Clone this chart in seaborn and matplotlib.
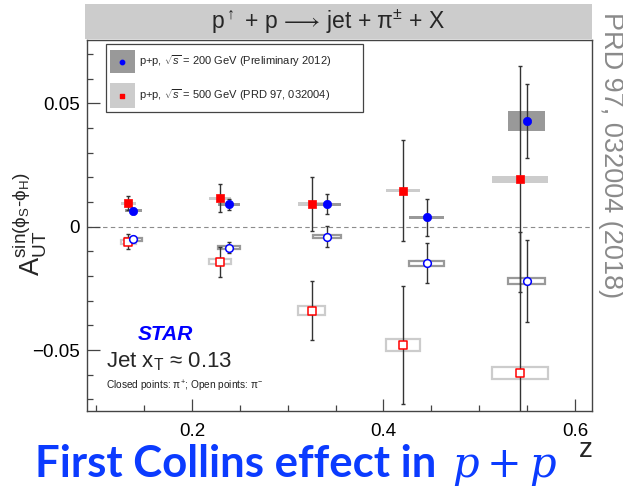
import numpy as np
import pandas as pd
import matplotlib
matplotlib.use("Agg")
import matplotlib.pyplot as plt
from matplotlib.patches import Rectangle
from matplotlib.ticker import MultipleLocator, FixedLocator, FuncFormatter
import seaborn as sns

# ---- data: Collins asymmetry vs z ----
# 200 GeV (preliminary 2012)
z_200 = [0.1387, 0.239, 0.341, 0.445, 0.5495]
a_200_pip = [0.0065, 0.0091, 0.0092, 0.0038, 0.0428]
e_200_pip = [0.0012, 0.0022, 0.0040, 0.0074, 0.0149]
a_200_pim = [-0.0051, -0.0085, -0.0041, -0.0148, -0.0219]
e_200_pim = [0.0012, 0.0022, 0.0043, 0.0081, 0.0166]
# systematic boxes (half-width in z, half-height in A)
sx_200 = [0.0087, 0.0115, 0.0145, 0.0180, 0.0193]
sy_200_pip = [0.0006, 0.0006, 0.0006, 0.0006, 0.0040]
sy_200_pim = [0.0006, 0.0006, 0.0006, 0.0010, 0.0013]

# 500 GeV (PRD 97, 032004)
z_500 = [0.1335, 0.229, 0.325, 0.4207, 0.5426]
a_500_pip = [0.0095, 0.0115, 0.0092, 0.0146, 0.0193]
e_500_pip = [0.0028, 0.0057, 0.0108, 0.0204, 0.0458]
a_500_pim = [-0.0061, -0.0142, -0.0340, -0.0480, -0.0592]
e_500_pim = [0.0030, 0.0060, 0.0120, 0.0240, 0.0570]
sx_500 = [0.0080, 0.0113, 0.0140, 0.0178, 0.0290]
sy_500_pip = [0.0006, 0.0006, 0.0007, 0.0007, 0.0014]
sy_500_pim = [0.0008, 0.0011, 0.0019, 0.0024, 0.0024]

x_ticks = [0.2, 0.4, 0.6]
y_ticks = [-0.05, 0.0, 0.05]

sns.set_theme(style="ticks")
plt.rcParams["font.family"] = ["Liberation Sans", "DejaVu Sans"]
plt.rcParams["mathtext.fontset"] = "custom"
plt.rcParams["mathtext.rm"] = "Liberation Sans"
plt.rcParams["mathtext.it"] = "Liberation Sans:italic"
plt.rcParams["mathtext.bf"] = "Liberation Sans:bold"

BLUE = "#0000ff"
RED = "#ff0000"
DARK = "#999999"
LIGHT = "#cccccc"

fig = plt.figure(figsize=(6.23, 4.88), dpi=100)
ax = fig.add_axes([0.1396, 0.1578, 0.8106, 0.7602])

ax.axhline(0, color="#8c8c8c", lw=0.8, ls=(0, (4, 3)), zorder=0.5)


def draw_set(z, a, err, sx, sy, color, box_color, filled, marker, size):
    df = pd.DataFrame({"z": z, "A": a})
    for zi, ai, hw, hh in zip(z, a, sx, sy):
        if filled:
            ax.add_patch(Rectangle((zi - hw, ai - hh), 2 * hw, 2 * hh,
                                   facecolor=box_color, edgecolor="none", zorder=1))
        else:
            ax.add_patch(Rectangle((zi - hw, ai - hh), 2 * hw, 2 * hh,
                                   facecolor="none", edgecolor=box_color, lw=1.6, zorder=1))
    ax.errorbar(z, a, yerr=err, fmt="none", ecolor="#333333", elinewidth=1.0,
                capsize=1.5, capthick=1.0, zorder=2)
    if filled:
        sns.scatterplot(data=df, x="z", y="A", ax=ax, marker=marker, s=size,
                        color=color, edgecolor=color, linewidth=0.5, zorder=3, legend=False)
    else:
        sns.scatterplot(data=df, x="z", y="A", ax=ax, marker=marker, s=size * 0.85,
                        color="white", edgecolor=color, linewidth=1.1, zorder=3, legend=False)


draw_set(z_500, a_500_pim, e_500_pim, sx_500, sy_500_pim, RED, LIGHT, False, "s", 30)
draw_set(z_200, a_200_pim, e_200_pim, sx_200, sy_200_pim, BLUE, DARK, False, "o", 36)
draw_set(z_500, a_500_pip, e_500_pip, sx_500, sy_500_pip, RED, LIGHT, True, "s", 30)
draw_set(z_200, a_200_pip, e_200_pip, sx_200, sy_200_pip, BLUE, DARK, True, "o", 36)

ax.set_xlim(0.0903, 0.6178)
ax.set_ylim(-0.0747, 0.0757)
ax.xaxis.set_major_locator(FixedLocator(x_ticks))
ax.xaxis.set_minor_locator(MultipleLocator(0.05))
ax.yaxis.set_major_locator(FixedLocator(y_ticks))
ax.yaxis.set_minor_locator(MultipleLocator(0.01))
ax.xaxis.set_major_formatter(FuncFormatter(lambda v, p: f"{v:g}"))
ax.yaxis.set_major_formatter(FuncFormatter(lambda v, p: "0" if abs(v) < 1e-9 else f"{v:g}".replace("-", "\u2212")))
ax.tick_params(axis="both", which="major", direction="in", length=9, width=0.9,
               color="#444444", labelsize=13.5, labelcolor="black")
ax.tick_params(axis="both", which="minor", direction="in", length=4.5, width=0.9, color="#444444")
ax.tick_params(axis="x", which="major", pad=9)
ax.tick_params(axis="y", which="major", pad=5)
for sp in ax.spines.values():
    sp.set_color("#444444")
    sp.set_linewidth(1.0)
ax.set_xlabel("")
ax.set_ylabel("")

# legend box
ax.add_patch(Rectangle((0.0376, 0.806), 0.509, 0.183, transform=ax.transAxes,
                       facecolor="white", edgecolor="#444444", lw=0.9, zorder=5))
ax.add_patch(Rectangle((0.0455, 0.911), 0.0495, 0.062, transform=ax.transAxes,
                       facecolor=DARK, edgecolor="none", zorder=6))
ax.add_patch(Rectangle((0.0455, 0.817), 0.0495, 0.067, transform=ax.transAxes,
                       facecolor=LIGHT, edgecolor="none", zorder=6))
ax.scatter([0.0703], [0.942], transform=ax.transAxes, marker="o", s=10,
           color=BLUE, zorder=7)
ax.scatter([0.0703], [0.850], transform=ax.transAxes, marker="s", s=10,
           color=RED, zorder=7)
ax.text(0.103, 0.942, r"p+p, $\sqrt{s}$ = 200 GeV (Preliminary 2012)", transform=ax.transAxes,
        fontsize=8, va="center", ha="left", zorder=7)
ax.text(0.103, 0.850, r"p+p, $\sqrt{s}$ = 500 GeV (PRD 97, 032004)", transform=ax.transAxes,
        fontsize=8, va="center", ha="left", zorder=7)

# annotations inside the frame
ax.text(0.101, 0.191, "STAR", transform=ax.transAxes, fontsize=15, fontweight="bold",
        fontstyle="italic", color=BLUE, va="baseline", ha="left")
ax.text(0.0376, 0.1186, r"Jet x$_\mathregular{T}$ ≈ 0.13", transform=ax.transAxes,
        fontsize=16, va="baseline", ha="left")
ax.text(0.0376, 0.0566, "Closed points: π$^{+}$; Open points: π$^{-}$",
        transform=ax.transAxes, fontsize=7.3, va="baseline", ha="left", color="#222222")

# title band
fig.patches.append(Rectangle((0.1364, 0.920), 0.8138, 0.072, transform=fig.transFigure,
                             facecolor=LIGHT, edgecolor="none", zorder=0))
fig.text(0.527, 0.955, r"p$^{\uparrow}$ + p $\!\longrightarrow\!$ jet + π$^{\pm}$ + X",
         fontsize=16.5, ha="center", va="center")

# axis titles
fig.text(0.048, 0.541, r"$\mathregular{A_{UT}^{sin(\phi_{S}\text{-}\phi_{H})}}$",
         rotation=90, fontsize=19.5, ha="center", va="center")
fig.text(0.940, 0.064, "z", fontsize=20, ha="center", va="baseline")

# reference on the right side
fig.text(0.980, 0.682, "PRD 97, 032004 (2018)", rotation=-90, fontsize=19.5,
         color="#8a8a8a", ha="center", va="center")

# banner at the bottom
fig.text(0.056, 0.0225, "First Collins effect in", fontsize=31.5, fontweight="bold",
         family="Lato", color="#0b3bff", ha="left", va="baseline")
fig.text(0.726, 0.0225, r"$p+p$", fontsize=30, color="#0b3bff", ha="left",
         va="baseline", math_fontfamily="dejavuserif")

fig.savefig("out.png", dpi=100)
